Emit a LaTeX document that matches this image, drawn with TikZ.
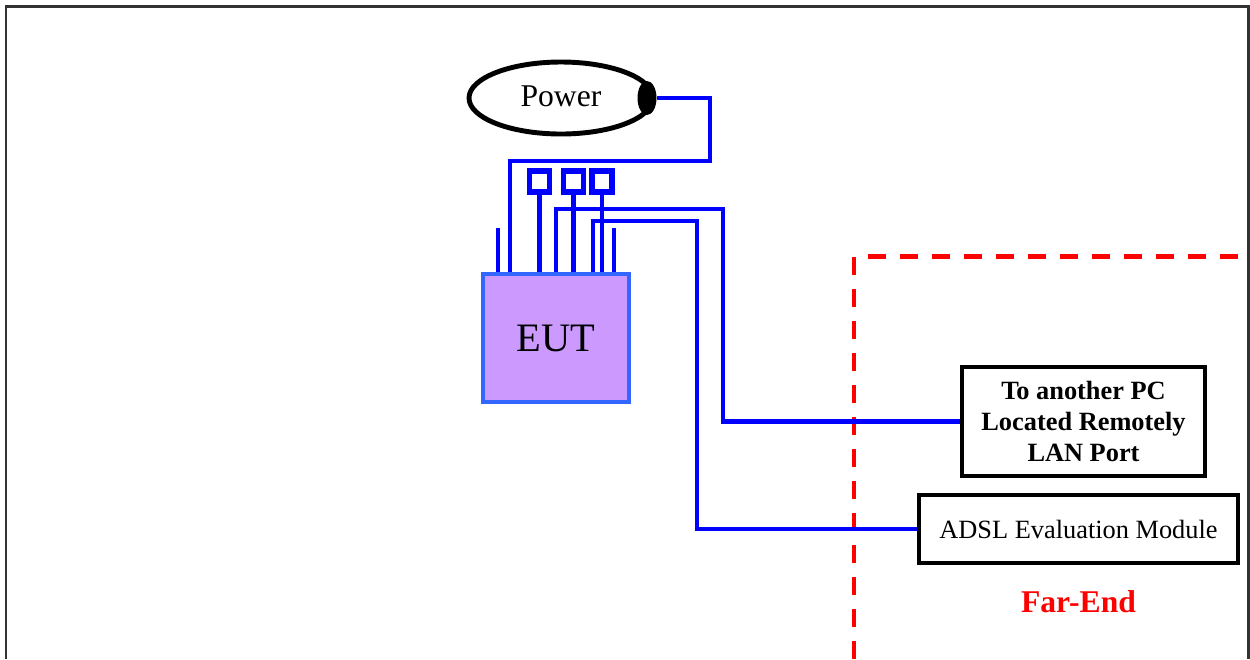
\documentclass[tikz,border=0pt]{standalone}
\usepackage{fontspec}
\setmainfont{Liberation Serif}
\usetikzlibrary{shapes.geometric}
\definecolor{eutfill}{HTML}{CC99FF}
\definecolor{eutline}{HTML}{3366FF}
\definecolor{framegray}{HTML}{333333}
\begin{document}
\begin{tikzpicture}[node distance=2cm, thick,
        wire/.style={draw=blue, line width=2.6pt},
        port/.style={draw=blue, line width=3pt, fill=white, minimum width=0.4cm, minimum height=0.42cm, inner sep=0pt},
        box/.style={draw, line width=2.6pt, align=center, inner sep=0pt, font=\fontsize{15}{17.6}\selectfont}]
        \useasboundingbox (0,0) rectangle (25,-13.18);
        \draw[framegray, line width=1.7pt] (0.12,-13.18) |- (24.97,-0.12) -- (24.97,-13.18);

        \node (EUT) [draw=eutline, fill=eutfill, line width=2.6pt, minimum width=2.92cm, minimum height=2.56cm, font=\fontsize{23}{26}\selectfont] at (11.12,-6.76) {EUT};
        \node (Pwr) [ellipse, draw, line width=2.8pt, minimum width=3.68cm, minimum height=1.44cm, font=\fontsize{18}{20}\selectfont] at (11.22,-1.96) {\raisebox{2pt}{Power}};
        \node (Plug) [ellipse, fill=black, minimum width=0.38cm, minimum height=0.68cm, inner sep=0pt, right of=Pwr, node distance=1.72cm] {};
        \node (S1) [port] at (10.79,-3.63) {};
        \node (S2) [port, right of=S1, node distance=0.68cm] {};
        \node (S3) [port, right of=S2, node distance=0.57cm] {};

        \node (LAN) [box, font=\fontsize{15}{17.6}\selectfont\bfseries, minimum width=4.86cm, minimum height=2.18cm] at (21.67,-8.43) {To another PC\\Located Remotely\\LAN Port};
        \node (ADSL) [box, minimum width=6.38cm, minimum height=1.36cm] at (21.57,-10.58) {ADSL Evaluation Module};
        \node (FE) [text=red, font=\fontsize{18}{20}\selectfont\bfseries, below of=ADSL, node distance=1.46cm] {Far-End};

        % far-end boundary
        \draw[red, line width=2.8pt, dash pattern=on 0.36cm off 0.28cm] (17.08,-13.18) |- (25.1,-5.13);

        % cables
        \coordinate (T1) at (9.96,-4.56);
        \coordinate (T2) at (12.28,-4.56);
        \coordinate (A0) at (11.86,-4.42);
        \draw[wire] (T1) -- (T1 |- EUT.north);
        \draw[wire] (T2) -- (T2 |- EUT.north);
        \foreach \s in {S1,S2,S3}
            \draw[wire] (\s.south) -- (\s |- EUT.north);
        \draw[wire] (Plug.east) -- ++(1.06,0) |- ++(-4,-1.26) coordinate (PC) -- (PC |- EUT.north);
        \draw[wire] (EUT.north) |- (14.46,-4.18) |- (LAN.west);
        \draw[wire] (A0 |- EUT.north) -- (A0) -- (13.94,-4.42) |- (ADSL.west);
    \end{tikzpicture}
\end{document}
